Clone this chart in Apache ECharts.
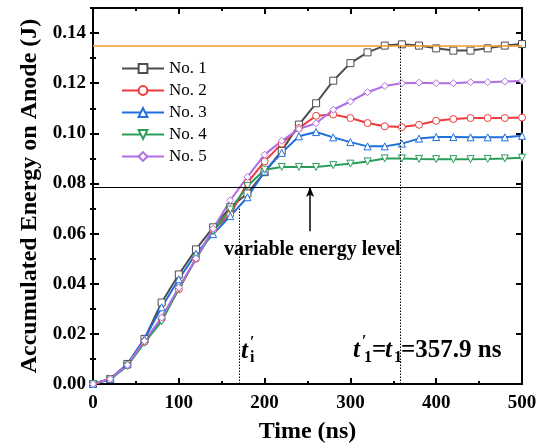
<!DOCTYPE html>
<html><head><meta charset="utf-8">
<script src="https://cdn.jsdelivr.net/npm/echarts@6/dist/echarts.min.js"></script>
<style>html,body{margin:0;padding:0;background:#fff}#c{width:542px;height:448px}</style>
</head><body><div id="c"></div>
<script>
// ---- data ----
const times = [0,20,40,60,80,100,120,140,160,180,200,220,240,260,280,300,320,340,360,380,400,420,440,460,480,500];
const no1 = [0,0.002,0.008,0.018,0.0325,0.0437,0.0537,0.0625,0.0705,0.076,0.0845,0.093,0.1035,0.112,0.121,0.128,0.1323,0.135,0.1355,0.135,0.1339,0.133,0.133,0.1339,0.135,0.1356];
const no2 = [0,0.002,0.0075,0.0168,0.026,0.0378,0.050,0.0615,0.0676,0.0803,0.0888,0.0959,0.1021,0.107,0.1075,0.1061,0.1041,0.1028,0.1025,0.1034,0.105,0.1057,0.1061,0.1061,0.1061,0.1063];
const no3 = [0,0.002,0.0078,0.018,0.0306,0.0418,0.052,0.0598,0.067,0.0745,0.0848,0.0922,0.0988,0.1005,0.0984,0.0965,0.0948,0.0948,0.0959,0.0979,0.0985,0.0985,0.0984,0.0984,0.0984,0.099];
const no4 = [0,0.0018,0.0072,0.0165,0.025,0.038,0.050,0.061,0.0696,0.079,0.0855,0.0866,0.0866,0.0866,0.0873,0.0879,0.0888,0.090,0.090,0.0898,0.0897,0.0897,0.0897,0.0898,0.090,0.0903];
const no5 = [0,0.002,0.0076,0.0172,0.0265,0.0385,0.050,0.0619,0.0733,0.0826,0.0915,0.097,0.1017,0.104,0.1094,0.1127,0.1164,0.1189,0.120,0.1202,0.120,0.120,0.1204,0.1204,0.1207,0.1209];
const seriesNames = ['No. 1','No. 2','No. 3','No. 4','No. 5'];
const energyLimit = 0.135;      // orange level
const variableLevel = 0.0786;   // black level
const tiPrime = 170;            // t'_i
const t1 = 357.9;               // t'_1 = t_1
const arrowT = 253;
const arrowFrom = 0.0609;
const tiTop = 0.070;

const serif = '"Liberation Serif","Times New Roman",serif';
const colors = ['#4d4d4d','#ee3b3b','#1f6fdc','#2a9d58','#b06ee4'];
const symbols = ['rect','circle','triangle','triangle','diamond'];
const rotates = [0,0,0,180,0];
const vals = [no1,no2,no3,no4,no5];

const series = vals.map((v,i)=>({
  name: seriesNames[i], type:'line', xAxisIndex:0, yAxisIndex:0,
  data: times.map((t,j)=>[t,v[j]]),
  symbol: symbols[i], symbolRotate: rotates[i], symbolSize: 7,
  showAllSymbol: true,
  lineStyle:{color:colors[i], width:2},
  itemStyle:{color:'#fff', borderColor:colors[i], borderWidth:1},
  emphasis:{disabled:true},
  z: 3
}));

series[0].markLine = {
  silent:true, symbol:['none','none'], animation:false, precision:6,
  label:{show:false},
  data:[
    {yAxis: energyLimit, lineStyle:{color:'#f29a2e', width:1.5, type:'solid'}},
    {yAxis: variableLevel, lineStyle:{color:'#000', width:1, type:'solid'}},
    [{coord:[tiPrime,0], lineStyle:{color:'#000', width:1, type:[1.5,1.5]}},{coord:[tiPrime,tiTop]}],
    [{coord:[t1,0], lineStyle:{color:'#000', width:1, type:[1.5,1.5]}},{coord:[t1,energyLimit]}],
    [{coord:[arrowT,arrowFrom], symbol:'none', lineStyle:{color:'#000', width:1.5, type:'solid'}},{coord:[arrowT,variableLevel], symbol:'arrow', symbolSize:[6,10]}]
  ]
};

const axisCommon = {
  type:'value', min:0,
  axisLine:{show:true, onZero:false, lineStyle:{color:'#000', width:2}},
  axisTick:{show:true, inside:true, length:6, lineStyle:{color:'#000', width:2}},
  splitLine:{show:false}
};
const labelStyle = {color:'#000', fontFamily:serif, fontWeight:'bold', fontSize:19};

const option = {
  animation:false,
  backgroundColor:'#fff',
  grid:{left:93, right:20, top:8, bottom:64, outerBoundsMode:'none', containLabel:false},
  legend:{
    orient:'vertical', left:116, top:55, itemWidth:42, itemHeight:11, itemGap:5,
    textStyle:{fontFamily:serif, fontSize:17, color:'#000'},
    data: seriesNames
  },
  xAxis:[
    Object.assign({}, axisCommon, {position:'bottom', max:500, interval:100,
      minorTick:{show:true, splitNumber:2, length:3, lineStyle:{color:'#000', width:2}},
      axisLabel:Object.assign({margin:10}, labelStyle),
      name:'Time (ns)', nameLocation:'middle', nameGap:36,
      nameTextStyle:{color:'#000', fontFamily:serif, fontWeight:'bold', fontSize:24}}),
    Object.assign({}, axisCommon, {position:'top', max:500, interval:100,
      minorTick:{show:true, splitNumber:2, length:3, lineStyle:{color:'#000', width:2}},
      axisLabel:{show:false}})
  ],
  yAxis:[
    Object.assign({}, axisCommon, {position:'left', max:0.15, interval:0.02,
      axisLabel:Object.assign({margin:7, showMaxLabel:false, formatter:v=>v.toFixed(2)}, labelStyle),
      name:'Accumulated Energy on Anode (J)', nameLocation:'middle', nameGap:48,
      nameTextStyle:{color:'#000', fontFamily:serif, fontWeight:'bold', fontSize:24}}),
    Object.assign({}, axisCommon, {position:'right', max:0.15, interval:0.02, axisLabel:{show:false}}),
    Object.assign({}, axisCommon, {position:'left', max:0.15, interval:0.01, axisLine:{show:false},
      axisTick:{show:true, inside:true, length:3, lineStyle:{color:'#000', width:2}}, axisLabel:{show:false}}),
    Object.assign({}, axisCommon, {position:'right', max:0.15, interval:0.01, axisLine:{show:false},
      axisTick:{show:true, inside:true, length:3, lineStyle:{color:'#000', width:2}}, axisLabel:{show:false}})
  ],
  series: series,
  graphic:[
    {type:'text', left:224, top:240, style:{text:'variable energy level', font:'bold 20px '+serif, fill:'#000'}},
    {type:'text', x:241, y:352, style:{text:'t', font:'italic bold 25px '+serif, fill:'#000', verticalAlign:'middle'}},
    {type:'text', x:250, y:343, style:{text:'\u2032', font:'bold 16px '+serif, fill:'#000', verticalAlign:'middle'}},
    {type:'text', x:250, y:358, style:{text:'i', font:'bold 16px '+serif, fill:'#000', verticalAlign:'middle'}},
    {type:'text', x:353, y:351, style:{text:'t', font:'italic bold 25px '+serif, fill:'#000', verticalAlign:'middle'}},
    {type:'text', x:362, y:342, style:{text:'\u2032', font:'bold 16px '+serif, fill:'#000', verticalAlign:'middle'}},
    {type:'text', x:364, y:358, style:{text:'1', font:'bold 16px '+serif, fill:'#000', verticalAlign:'middle'}},
    {type:'text', x:372, y:351, style:{text:'=', font:'bold 25px '+serif, fill:'#000', verticalAlign:'middle'}},
    {type:'text', x:385, y:351, style:{text:'t', font:'italic bold 25px '+serif, fill:'#000', verticalAlign:'middle'}},
    {type:'text', x:394, y:358, style:{text:'1', font:'bold 16px '+serif, fill:'#000', verticalAlign:'middle'}},
    {type:'text', x:401, y:351, style:{text:'=357.9 ns', font:'bold 25px '+serif, fill:'#000', verticalAlign:'middle'}}
  ]
};
const chart = echarts.init(document.getElementById('c'), null, {renderer:'canvas'});
chart.setOption(option);
</script></body></html>
